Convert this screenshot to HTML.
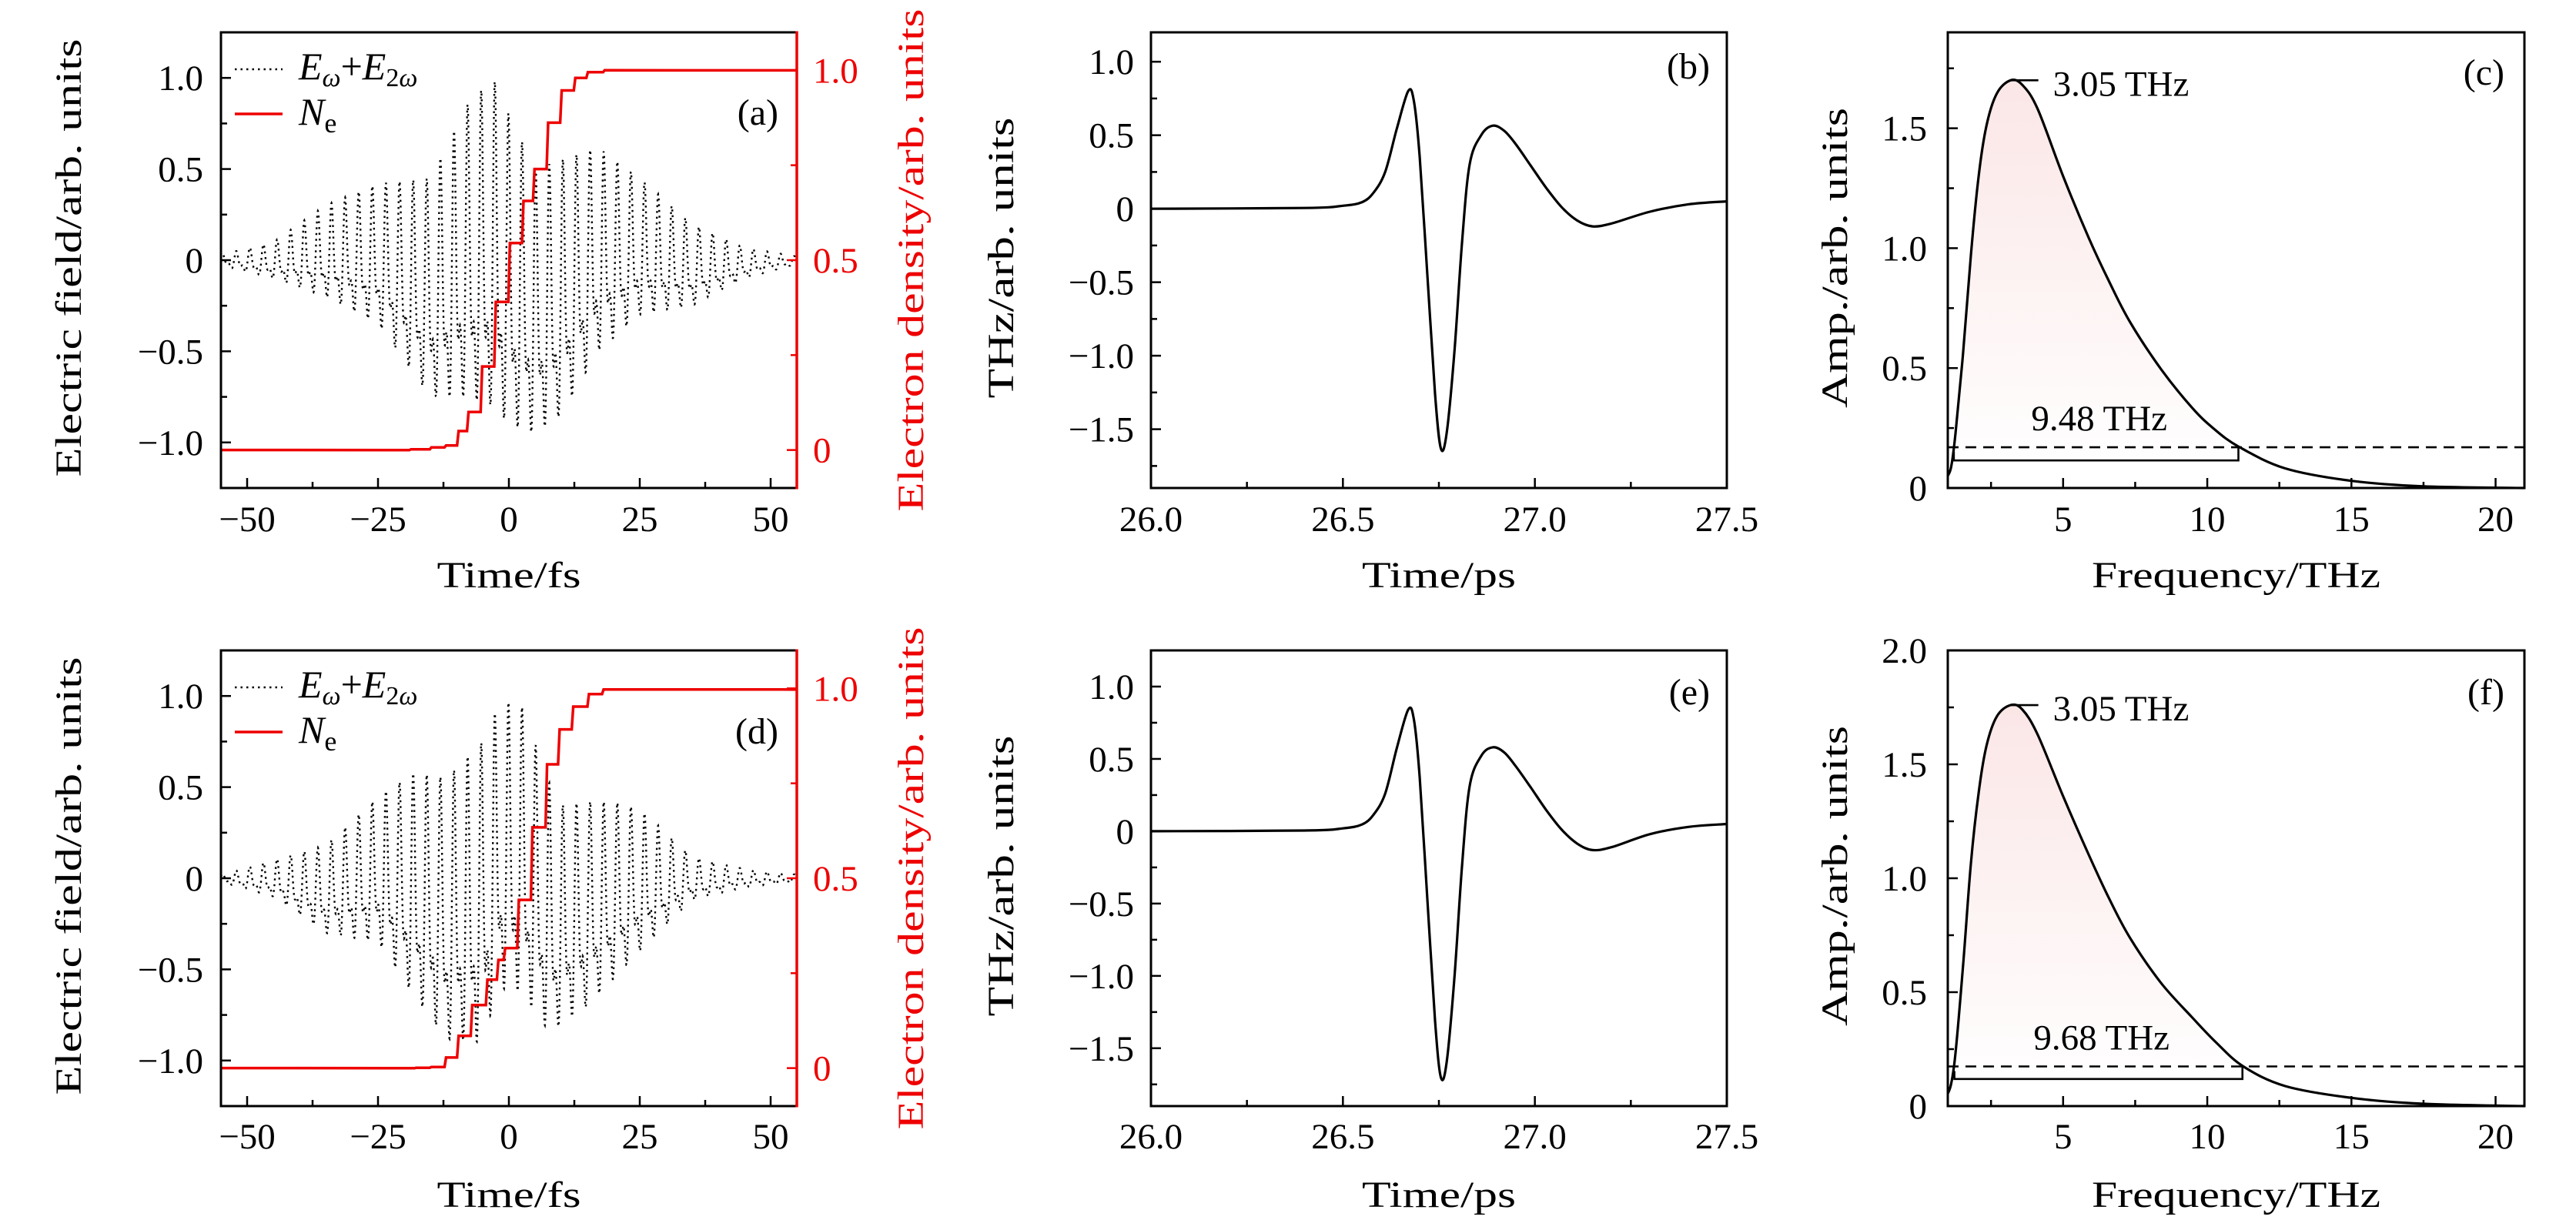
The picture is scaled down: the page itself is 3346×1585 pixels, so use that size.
<!DOCTYPE html>
<html><head><meta charset="utf-8">
<style>
html,body{margin:0;padding:0;background:#fff;}
svg{display:block;font-family:"Liberation Serif",serif;}
</style></head>
<body>
<svg id="fig" width="3346" height="1585" viewBox="0 0 3346 1585" xmlns="http://www.w3.org/2000/svg">
<defs>
<linearGradient id="pinkfill" x1="0" y1="0" x2="0" y2="1">
<stop offset="0" stop-color="#fbe6e6"/><stop offset="1" stop-color="#ffffff"/>
</linearGradient>
</defs>
</svg>
<script>
// ---------- data ----------
const fieldTimesA = [-55,-45,-35,-25,-15,-8,-3,0,5,10,17,25,35,45,55];
const fieldUpperA = [0.03,0.1,0.3,0.42,0.45,0.85,1.0,0.8,0.5,0.55,0.62,0.45,0.2,0.07,0.02];
const fieldLowerA = [-0.03,-0.1,-0.2,-0.35,-0.75,-0.75,-0.8,-0.9,-0.95,-0.85,-0.5,-0.3,-0.25,-0.1,-0.02];
const stepTimesA = [-19,-15.1,-12.3,-9.9,-8,-5.4,-2.8,-0.1,2.5,4.6,7.2,9.8,12.4,14.8,18];
const stepLevelsA = [0.002,0.007,0.012,0.05,0.1,0.22,0.39,0.545,0.656,0.74,0.862,0.947,0.98,0.995,1.0];
const fieldTimesD = [-55,-45,-35,-25,-18,-12,-5,-2,2,8,10,15,20,25,35,45,55];
const fieldUpperD = [0.02,0.1,0.18,0.45,0.58,0.55,0.75,0.95,0.98,0.5,0.4,0.42,0.42,0.38,0.12,0.05,0.02];
const fieldLowerD = [-0.02,-0.1,-0.3,-0.35,-0.65,-0.88,-0.9,-0.6,-0.62,-0.85,-0.8,-0.7,-0.55,-0.4,-0.12,-0.05,-0.02];
const stepTimesD = [-18,-15.1,-12.3,-9.9,-7.3,-4.4,-2.3,-1.0,1.6,4.2,7.0,9.4,12.0,15.0,17.8];
const stepLevelsD = [0.001,0.003,0.028,0.085,0.166,0.233,0.285,0.316,0.443,0.634,0.8,0.892,0.952,0.985,0.997];
const thzTimes = [26.0,26.4,26.5,26.55,26.58,26.61,26.64,26.67,26.685,26.70,26.72,26.74,26.755,26.77,26.79,26.81,26.83,26.86,26.89,26.92,26.95,26.99,27.03,27.07,27.11,27.15,27.2,27.3,27.4,27.5];
const thzB = [0,0.005,0.02,0.045,0.11,0.25,0.54,0.8,0.73,0.35,-0.45,-1.26,-1.63,-1.53,-0.99,-0.24,0.3,0.5,0.565,0.53,0.44,0.29,0.14,0.01,-0.08,-0.12,-0.1,-0.02,0.03,0.05];
const thzE = [0,0.005,0.02,0.047,0.115,0.26,0.57,0.84,0.77,0.37,-0.47,-1.31,-1.70,-1.60,-1.03,-0.25,0.31,0.52,0.58,0.545,0.45,0.3,0.145,0.01,-0.085,-0.13,-0.11,-0.02,0.03,0.05];
const freqC = [1.0,1.12,1.27,1.53,1.8,2.07,2.34,2.7,3.18,3.59,4.12,5.0,5.9,6.6,7.33,8.4,9.47,10.2,11.08,12.7,15.0,17.5,21];
const ampC = [0.05,0.09,0.23,0.56,0.97,1.3,1.51,1.645,1.70,1.68,1.58,1.30,1.04,0.86,0.69,0.495,0.335,0.25,0.173,0.082,0.03,0.007,0];
const freqF = [1.0,1.12,1.27,1.53,1.8,2.07,2.34,2.7,3.18,3.59,4.12,5.0,5.9,6.6,7.33,8.4,9.47,10.3,11.25,12.7,15.0,17.5,21];
const ampF = [0.054,0.1,0.235,0.615,1.064,1.375,1.58,1.71,1.76,1.74,1.63,1.36,1.10,0.91,0.736,0.54,0.39,0.28,0.174,0.088,0.036,0.01,0];
const levelC = 0.17, bracketC = [1.21, 11.08, 0.115];
const levelF = 0.174, bracketF = [1.23, 11.22, 0.119];

// ---------- helpers ----------
const NS = "http://www.w3.org/2000/svg";
const svg = document.getElementById('fig');
function mk(tag, attrs, parent){
  const e = document.createElementNS(NS, tag);
  for (const k in attrs) e.setAttribute(k, attrs[k]);
  (parent||svg).appendChild(e);
  return e;
}
function interp(xs, ys, x){
  if (x<=xs[0]) return ys[0];
  for (let i=1;i<xs.length;i++){ if (x<=xs[i]){ const t=(x-xs[i-1])/(xs[i]-xs[i-1]); return ys[i-1]+t*(ys[i]-ys[i-1]); } }
  return ys[ys.length-1];
}
function smoothPath(pts){
  let d = `M${pts[0][0].toFixed(1)},${pts[0][1].toFixed(1)}`;
  for (let i=0;i<pts.length-1;i++){
    const p0=pts[Math.max(0,i-1)], p1=pts[i], p2=pts[i+1], p3=pts[Math.min(pts.length-1,i+2)];
    const c1=[p1[0]+(p2[0]-p0[0])/6, p1[1]+(p2[1]-p0[1])/6];
    const c2=[p2[0]-(p3[0]-p1[0])/6, p2[1]-(p3[1]-p1[1])/6];
    d += ` C${c1[0].toFixed(1)},${c1[1].toFixed(1)} ${c2[0].toFixed(1)},${c2[1].toFixed(1)} ${p2[0].toFixed(1)},${p2[1].toFixed(1)}`;
  }
  return d;
}
function makePanel(p){
  p.sx = v => p.x0 + (v-p.xmin)/(p.xmax-p.xmin)*(p.x1-p.x0);
  p.sy = v => p.y1 - (v-p.ymin)/(p.ymax-p.ymin)*(p.y1-p.y0);
  return p;
}
function xDecFmt(v, dec){ if (Math.abs(v)<1e-9 && !dec) return "0"; return (dec? v.toFixed(dec): String(v)).replace('-','\u2212'); }
function drawAxes(p, name, xMajor, xMinor, yMajor, yMinor, xTitle, yTitle, xTitleLen, yTitleLen, yTitleX, labelRightX, xLabelY, xTitleY, yDec){
  const g = mk('g', {});
  
  
  xMinor.forEach(v=>{ const x=p.sx(v); mk('line',{x1:x,x2:x,y1:p.y1,y2:p.y1-8,stroke:'#000','stroke-width':2.5},g); });
  xMajor.forEach(v=>{
    const x=p.sx(v);
    mk('line',{x1:x,x2:x,y1:p.y1,y2:p.y1-13,stroke:'#000','stroke-width':2.5},g);
    const t = mk('text',{x:x,y:xLabelY,'text-anchor':'middle','font-size':47},g);
    
    
    t.textContent = xDecFmt(v, p.xdec);
  });
  yMinor.forEach(v=>{ const y=p.sy(v); mk('line',{x1:p.x0,x2:p.x0+8,y1:y,y2:y,stroke:'#000','stroke-width':2.5},g); });
  yMajor.forEach(v=>{
    const y=p.sy(v);
    mk('line',{x1:p.x0,x2:p.x0+13,y1:y,y2:y,stroke:'#000','stroke-width':2.5},g);
    const t = mk('text',{x:labelRightX,y:y+16,'text-anchor':'end','font-size':47},g);
    
    
    t.textContent = (Math.abs(v)<1e-9)?"0":v.toFixed(yDec).replace('-','\u2212');
  });
  const xt = mk('text',{x:(p.x0+p.x1)/2,y:xTitleY,'text-anchor':'middle','font-size':48,textLength:xTitleLen,lengthAdjust:'spacingAndGlyphs'},g);
  
  
  xt.textContent = xTitle;
  const cy = (p.y0+p.y1)/2 - 3;
  const yt = mk('text',{x:yTitleX,y:cy,'text-anchor':'middle','font-size':48,textLength:yTitleLen,lengthAdjust:'spacingAndGlyphs',transform:`rotate(-90 ${yTitleX} ${cy})`},g);
  
  
  yt.textContent = yTitle;
  return g;
}
function frame(p, name, rightRed){
  const r = mk('rect',{x:p.x0,y:p.y0,width:p.x1-p.x0,height:p.y1-p.y0,fill:'none',stroke:'#000','stroke-width':3});
  
  
  if (rightRed){
    const l = mk('line',{x1:p.x1,x2:p.x1,y1:p.y0-1.5,y2:p.y1+1.5,stroke:'#e00','stroke-width':3.5});
    
    
  }
}
function panelLabel(txt, x, y, name){
  const t = mk('text',{x:x,y:y,'text-anchor':'end','font-size':48});
  
  
  t.textContent = txt;
}
function xLabY(y0){ return y0<100 ? 690 : 1492; }
function xTitY(y0){ return y0<100 ? 763 : 1568; }

// ---------- field panels (a),(d) ----------
function fieldPanel(y0, y1, name, times, up, lo, sT, sL, label, labelY){
  const p = makePanel({x0:287,x1:1035,y0:y0,y1:y1,xmin:-55,xmax:55,ymin:-1.25,ymax:1.25,xdec:0});
  const rY = v => p.y1 - (v+0.1)/1.2*(p.y1-p.y0);
  const dy = y0-42;
  const period = 2.6;
  const wave = t => Math.cos(2*Math.PI*t/period) + 0.55*Math.cos(4*Math.PI*t/period+0.6);
  let wmin = 1e9, wmax = -1e9;
  for (let t=0;t<period;t+=0.005){ const w=wave(t); wmin=Math.min(wmin,w); wmax=Math.max(wmax,w); }
  let d = "";
  for (let t=-55; t<=55; t+=0.04){
    const wn = (wave(t)-wmin)/(wmax-wmin);
    const hi = interp(times, up, t), lw = interp(times, lo, t);
    const v = lw + (hi-lw)*wn;
    d += (d?"L":"M") + p.sx(t).toFixed(1) + "," + p.sy(v).toFixed(1);
  }
  const fl = mk('path',{d:d,fill:'none',stroke:'#000','stroke-width':2.4,'stroke-dasharray':'2.5 5'});
  
  
  let sd = `M${p.sx(-55)},${rY(0)}`;
  let prev = 0;
  for (let i=0;i<sT.length;i++){
    sd += ` L${p.sx(sT[i]).toFixed(1)},${rY(prev).toFixed(1)} L${(p.sx(sT[i])+2).toFixed(1)},${rY(sL[i]).toFixed(1)}`;
    prev = sL[i];
  }
  sd += ` L${p.sx(55)},${rY(prev)}`;
  const sl = mk('path',{d:sd,fill:'none',stroke:'#e00','stroke-width':3.5});
  
  
  frame(p, name, true);
  drawAxes(p, name, [-50,-25,0,25,50], [-37.5,-12.5,12.5,37.5], [-1,-0.5,0,0.5,1], [-0.75,-0.25,0.25,0.75],
    'Time/fs', 'Electric field/arb. units', 187, 569, 105, 264, xLabY(y0), xTitY(y0), 1);
  const rg = mk('g',{});
  
  
  [0,0.25,0.5,0.75,1].forEach((v,i)=>{
    const y=rY(v);
    mk('line',{x1:p.x1,x2:p.x1-(i%2?8:13),y1:y,y2:y,stroke:'#e00','stroke-width':2.5},rg);
    if (i%2===0){
      const t = mk('text',{x:1056,y:y+16,'font-size':47,fill:'#e00'},rg);
      
      
      t.textContent = v===0?"0":v.toFixed(1);
    }
  });
  const cy = (p.y0+p.y1)/2;
  const rt = mk('text',{x:1199,y:cy,'text-anchor':'middle','font-size':48,fill:'#e00',textLength:653,lengthAdjust:'spacingAndGlyphs',transform:`rotate(-90 1199 ${cy})`},rg);
  
  
  rt.textContent = 'Electron density/arb. units';
  const lg = mk('g',{});
  
  
  mk('line',{x1:305,x2:367,y1:90+dy,y2:90+dy,stroke:'#000','stroke-width':2.4,'stroke-dasharray':'2.5 5'},lg);
  const t1 = mk('text',{x:388,y:103+dy,'font-size':50,'font-style':'italic'},lg);
  
  
  t1.innerHTML = 'E<tspan font-size="34" dy="9">ω</tspan><tspan font-style="normal" dy="-9">+</tspan>E<tspan font-size="34" dy="9" font-style="normal">2</tspan><tspan font-size="34">ω</tspan>';
  mk('line',{x1:305,x2:367,y1:148+dy,y2:148+dy,stroke:'#e00','stroke-width':3.5},lg);
  const t2 = mk('text',{x:388,y:162+dy,'font-size':50,'font-style':'italic'},lg);
  
  
  t2.innerHTML = 'N<tspan font-size="36" dy="10" font-style="normal">e</tspan>';
  panelLabel(label, 1011, labelY, name);
}

// ---------- THz panels (b),(e) ----------
function thzPanel(y0, y1, ymax, name, vals, label, labelY){
  const p = makePanel({x0:1495,x1:2243,y0:y0,y1:y1,xmin:26,xmax:27.5,ymin:-1.9,ymax:ymax,xdec:1});
  const pts = thzTimes.map((t,i)=>[p.sx(t), p.sy(vals[i])]);
  const c = mk('path',{d:smoothPath(pts),fill:'none',stroke:'#000','stroke-width':3.2});
  
  
  frame(p, name, false);
  drawAxes(p, name, [26,26.5,27,27.5], [26.25,26.75,27.25], [-1.5,-1,-0.5,0,0.5,1], [-1.75,-1.25,-0.75,-0.25,0.25,0.75],
    'Time/ps', 'THz/arb. units', 200, 365, 1316, 1473, xLabY(y0), xTitY(y0), 1);
  panelLabel(label, 2221, labelY, name);
}

// ---------- spectrum panels (c),(f) ----------
function specPanel(y0, y1, ymax, name, fr, am, level, br, yMaj, yMin, lbl2, label, labelY){
  const p = makePanel({x0:2530,x1:3279,y0:y0,y1:y1,xmin:1,xmax:21,ymin:0,ymax:ymax,xdec:0});
  const pts = fr.map((f,i)=>[p.sx(f), p.sy(am[i])]);
  const fillPts = [];
  for (let i=0;i<fr.length && fr[i]<=br[1];i++) fillPts.push(pts[i]);
  let fd = smoothPath(fillPts) + ` L${p.sx(br[1])},${p.sy(br[2])} L${p.sx(fr[0])},${p.sy(br[2])} Z`;
  const fa = mk('path',{d:fd,fill:'url(#pinkfill)',stroke:'none'});
  
  
  const c = mk('path',{d:smoothPath(pts),fill:'none',stroke:'#000','stroke-width':3.2});
  
  
  const dl = mk('line',{x1:p.x0,x2:p.x1,y1:p.sy(level),y2:p.sy(level),stroke:'#000','stroke-width':2.6,'stroke-dasharray':'14 9'});
  
  
  const bw = mk('path',{d:`M${p.sx(br[0])},${p.sy(level)+6} L${p.sx(br[0])},${p.sy(br[2])} L${p.sx(br[1])},${p.sy(br[2])} L${p.sx(br[1])},${p.sy(level)}`,fill:'none',stroke:'#000','stroke-width':2.6});
  
  
  const bt = mk('text',{x:p.sx((br[0]+br[1])/2)+4,y:p.sy(level)-22,'text-anchor':'middle','font-size':47});
  
  
  bt.textContent = lbl2;
  let pk = 0; am.forEach((v,i)=>{ if (v>am[pk]) pk=i; });
  const px = p.sx(fr[pk]), py = p.sy(am[pk]);
  const pl = mk('line',{x1:px,x2:px+36,y1:py,y2:py,stroke:'#000','stroke-width':2.6});
  
  
  const pt = mk('text',{x:px+55,y:py+20,'font-size':47});
  
  
  pt.textContent = '3.05 THz';
  frame(p, name, false);
  drawAxes(p, name, [5,10,15,20], [2.5,7.5,12.5,17.5], yMaj, yMin,
    'Frequency/THz', 'Amp./arb. units', 375, 390, 2399, 2503, xLabY(y0), xTitY(y0), 1);
  panelLabel(label, 3253, labelY, name);
}

fieldPanel(42, 634, 'panel-a', fieldTimesA, fieldUpperA, fieldLowerA, stepTimesA, stepLevelsA, '(a)', 162);
fieldPanel(845, 1437, 'panel-d', fieldTimesD, fieldUpperD, fieldLowerD, stepTimesD, stepLevelsD, '(d)', 966);
thzPanel(42, 634, 1.2, 'panel-b', thzB, '(b)', 102);
thzPanel(845, 1437, 1.25, 'panel-e', thzE, '(e)', 915);
specPanel(42, 634, 1.9, 'panel-c', freqC, ampC, levelC, bracketC, [0,0.5,1,1.5], [0.25,0.75,1.25,1.75], '9.48 THz', '(c)', 110);
specPanel(845, 1437, 2.0, 'panel-f', freqF, ampF, levelF, bracketF, [0,0.5,1,1.5,2], [0.25,0.75,1.25,1.75], '9.68 THz', '(f)', 915);
</script>
</body></html>
